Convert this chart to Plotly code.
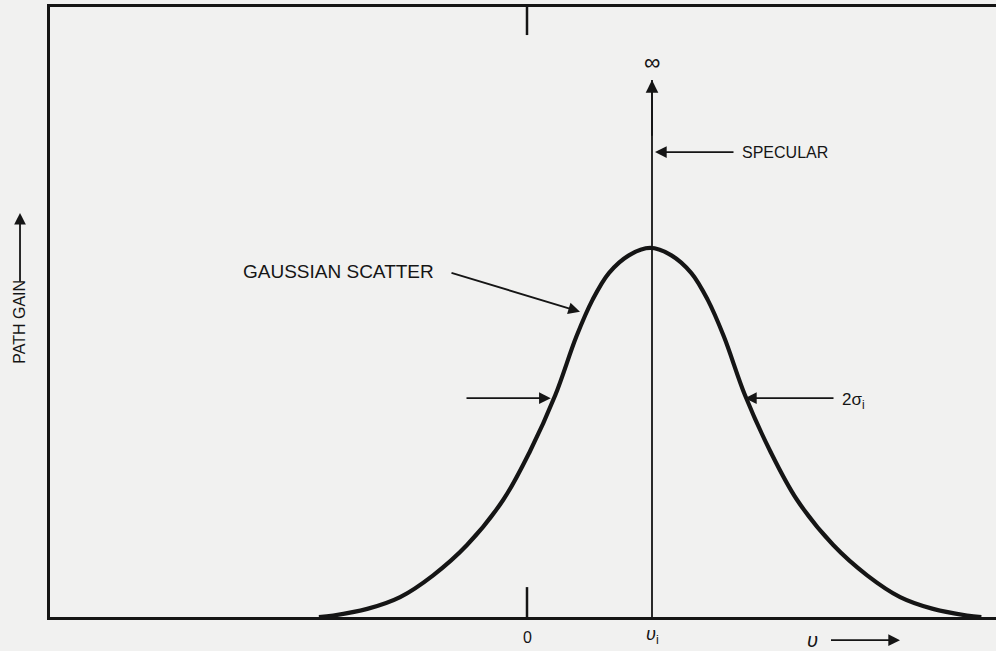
import plotly.graph_objects as go

# Gaussian scatter curve
# (x: angle units, 0 at origin tick, v_i = 1; y: path gain, peak = 1)
curve_x = [-1.665, -1.55, -1.278, -1.015, -0.751, -0.48, -0.191, 0.025, 0.225, 0.395,
           0.525, 0.655, 0.815, 0.985, 1.155, 1.315, 1.445, 1.575, 1.745, 1.945,
           2.161, 2.45, 2.721, 2.985, 3.248, 3.52, 3.635]
curve_y = [0.0, 0.004, 0.022, 0.054, 0.113, 0.195, 0.317, 0.45, 0.60, 0.76,
           0.86, 0.932, 0.98, 1.0, 0.98, 0.932, 0.86, 0.76, 0.60, 0.45,
           0.317, 0.195, 0.113, 0.054, 0.022, 0.004, 0.0]

specular_x = [1.0, 1.0]
specular_y = [0.0, 1.455]

origin_tick_x = 0.0
x_range = [-3.816, 3.752]
y_range = [0.0, 1.653]

half_width_y = 0.593
left_half_x = 0.19
right_half_x = 1.744

ink = "#151515"
bg = "#f1f1f0"
font_family = "Liberation Sans, Arial, Helvetica, sans-serif"

fig = go.Figure()

fig.add_trace(go.Scatter(x=curve_x, y=curve_y, mode="lines",
                         line=dict(color=ink, width=4.2, shape="spline", smoothing=1.0),
                         hoverinfo="skip", showlegend=False))

fig.add_trace(go.Scatter(x=specular_x, y=specular_y, mode="lines",
                         line=dict(color=ink, width=1.8), hoverinfo="skip", showlegend=False))

# origin ticks (top and bottom)
fig.add_trace(go.Scatter(x=[origin_tick_x, origin_tick_x], y=[y_range[1], y_range[1] - 0.076], mode="lines",
                         line=dict(color=ink, width=2.5), hoverinfo="skip", showlegend=False))
fig.add_trace(go.Scatter(x=[origin_tick_x, origin_tick_x], y=[0, 0.081], mode="lines",
                         line=dict(color=ink, width=2.5), hoverinfo="skip", showlegend=False))

annotations = []

def arrow(hx, hy, tx, ty, width=1.8, size=1.3, xref="x", yref="y", axref="x", ayref="y"):
    annotations.append(dict(x=hx, y=hy, ax=tx, ay=ty, xref=xref, yref=yref, axref=axref, ayref=ayref,
                            text="", showarrow=True, arrowhead=2, arrowsize=size,
                            arrowwidth=width, arrowcolor=ink, standoff=0, startstandoff=0))

def label(x, y, text, size=14, xanchor="center", textangle=0, xref="x", yref="y"):
    annotations.append(dict(x=x, y=y, xref=xref, yref=yref, text=text, showarrow=False,
                            xanchor=xanchor, yanchor="middle", textangle=textangle,
                            font=dict(family=font_family, size=size, color=ink)))

# specular arrowhead at top + infinity
arrow(1.0, 1.455, 1.0, 1.30, width=1.8, size=1.4)
label(1.0, 1.505, "∞", size=23)

# SPECULAR
arrow(1.024, 1.260, 1.664, 1.260)
label(1.70, 1.260, "SPECULAR", size=16, xanchor="left")

# GAUSSIAN SCATTER
label(-2.29, 0.937, "GAUSSIAN SCATTER", size=19, xanchor="left")
arrow(0.424, 0.827, -0.616, 0.934)

# half width arrows
arrow(left_half_x, half_width_y, -0.496, half_width_y)
arrow(right_half_x, 0.593, 2.464, 0.593)
label(2.50, 0.585, "2σ<sub>i</sub>", size=17, xanchor="left")

# x labels below axis (y in paper units, below plot area)
label(0.0, -0.034, "0", size=16, yref="paper")
label(1.0, -0.031, "<i>υ</i><sub>i</sub>", size=18, yref="paper")
label(2.34, -0.038, "<i>υ</i>", size=20, xanchor="right", yref="paper")
arrow(2.984, -0.038, 2.42, 0, yref="paper", axref="x", ayref="pixel")

# PATH GAIN y label (x in paper units, left of plot area)
label(-0.0317, 0.80, "PATH GAIN", size=16, textangle=-90, xref="paper")
arrow(-0.0317, 1.095, 0, 0.905, xref="paper", axref="pixel", ayref="y")

fig.update_layout(
    width=996, height=651,
    margin=dict(l=50, r=0, t=7, b=34),
    paper_bgcolor=bg, plot_bgcolor=bg,
    showlegend=False,
    annotations=annotations,
    xaxis=dict(range=x_range, showgrid=False, zeroline=False, showticklabels=False, ticks="",
               showline=True, linecolor=ink, linewidth=2.5, mirror=True, fixedrange=True),
    yaxis=dict(range=y_range, showgrid=False, zeroline=False, showticklabels=False, ticks="",
               showline=True, linecolor=ink, linewidth=2.5, mirror=False, fixedrange=True),
)

fig.write_html(
    "out.html",
    config={"displayModeBar": False},
    post_script="document.body.style.margin='0';document.body.style.padding='0';"
                "document.body.style.background='%s';document.body.style.overflow='hidden';" % bg,
)
